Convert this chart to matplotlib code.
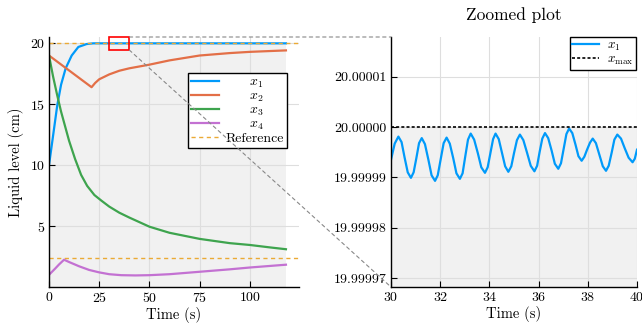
import numpy as np
import matplotlib
matplotlib.use("Agg")
import matplotlib.pyplot as plt
from matplotlib.patches import Rectangle, ConnectionPatch
from matplotlib.ticker import FixedLocator, FuncFormatter

plt.rcParams['font.family'] = ['cmr10', 'DejaVu Serif']
plt.rcParams['mathtext.fontset'] = 'cm'
plt.rcParams['axes.formatter.use_mathtext'] = True

# ---- data ----
t_x1 = [0, 2.1, 4.1, 6, 8.3, 11.3, 14.6, 18.7, 22, 118]
x1 = [10.0, 12.5, 14.9, 16.6, 17.95, 19.0, 19.7, 19.94, 20.0, 20.0]

t_x2 = [0, 21.2, 23, 25, 30, 35, 40, 50, 60, 75, 90, 100, 118]
x2 = [19.0, 16.4, 16.75, 17.05, 17.45, 17.75, 17.95, 18.25, 18.6, 19.0, 19.2, 19.3, 19.42]

t_x3 = [0, 2, 4, 6, 8, 10, 13, 16, 19, 22.6, 26, 30, 35, 40, 50, 60, 75, 90, 100, 110, 118]
x3 = [19.0, 17.3, 15.8, 14.4, 13.2, 12.0, 10.5, 9.2, 8.3, 7.55, 7.1, 6.6, 6.1, 5.7,
      4.95, 4.45, 3.95, 3.6, 3.45, 3.25, 3.1]

t_x4 = [0, 3, 5, 7.5, 10, 15, 20, 25, 30, 36, 43, 50, 60, 75, 90, 100, 118]
x4 = [1.0, 1.5, 1.85, 2.24, 2.05, 1.7, 1.4, 1.2, 1.05, 0.97, 0.95, 0.97, 1.05, 1.25,
      1.45, 1.6, 1.83]

ref_levels = [20.0, 2.4]
t_end = 118
x_max = 20.0

# zoomed x1 : time and deviation from 20 (units of 1e-6)
t_zoom = [30.0, 30.15, 30.3, 30.43, 30.55, 30.68, 30.81, 30.92, 31.03, 31.14,
          31.25, 31.38, 31.52, 31.65, 31.79, 31.9, 32.02, 32.14, 32.26, 32.39,
          32.53, 32.66, 32.8, 32.91, 33.02, 33.13, 33.24, 33.38, 33.53, 33.67,
          33.82, 33.93, 34.04, 34.15, 34.25, 34.38, 34.51, 34.64, 34.77, 34.89,
          35.0, 35.12, 35.24, 35.38, 35.53, 35.68, 35.83, 35.94, 36.04, 36.15,
          36.26, 36.39, 36.53, 36.66, 36.8, 36.91, 37.02, 37.13, 37.24, 37.37,
          37.5, 37.62, 37.75, 37.86, 37.97, 38.09, 38.2, 38.33, 38.47, 38.61,
          38.74, 38.85, 38.97, 39.08, 39.2, 39.35, 39.5, 39.66, 39.82, 39.91, 40.0]
dev_zoom = [-6.5, -3.3, -1.9, -3.0, -6.0, -9.0, -10.1, -9.0, -6.2, -3.2,
            -2.2, -3.4, -6.5, -9.6, -10.7, -9.6, -6.4, -3.2, -2.1, -3.3,
            -6.2, -9.2, -10.3, -9.2, -5.8, -2.5, -1.3, -2.5, -5.2, -8.0,
            -9.1, -8.0, -5.2, -2.4, -1.3, -2.4, -5.1, -7.8, -8.9, -7.8,
            -5.2, -2.6, -1.5, -2.6, -5.1, -7.7, -8.8, -7.7, -5.0, -2.3,
            -1.2, -2.2, -4.7, -7.3, -8.3, -7.2, -4.3, -1.4, -0.3, -1.2,
            -3.5, -5.8, -6.7, -5.9, -4.5, -3.1, -2.3, -3.2, -5.5, -7.8,
            -8.7, -7.7, -5.1, -2.5, -1.5, -2.3, -4.2, -6.1, -7.0, -6.3, -4.5]

colors = ['#009AFA', '#E36F47', '#3EA44E', '#C371D2']
ref_color = '#EBAA35'
fill_color = '#F1F1F1'
grid_color = '#DEDEDE'
lw = 1.6

fig = plt.figure(figsize=(6.42, 3.23), dpi=100)
ax1 = fig.add_axes([49 / 642, 1 - 287 / 323, 250 / 642, 250 / 323])
ax2 = fig.add_axes([391 / 642, 1 - 287 / 323, 246 / 642, 250 / 323])


def style(ax):
    for s in ['top', 'right']:
        ax.spines[s].set_visible(False)
    for s in ['left', 'bottom']:
        ax.spines[s].set_linewidth(1.0)
    ax.tick_params(direction='in', length=4, width=0.8, labelsize=10, pad=3)
    ax.grid(True, color=grid_color, lw=0.8)
    ax.set_axisbelow(True)


# ---- left panel ----
ylo, yhi = 0.0, 20.52
ax1.fill_between([0, t_end], ylo, x_max, color=fill_color, lw=0, zorder=0)
ax1.plot(t_x1, x1, color=colors[0], lw=lw, label='     $x_1$')
ax1.plot(t_x2, x2, color=colors[1], lw=lw, label='     $x_2$')
ax1.plot(t_x3, x3, color=colors[2], lw=lw, label='     $x_3$')
ax1.plot(t_x4, x4, color=colors[3], lw=lw, label='     $x_4$')
for i, r in enumerate(ref_levels):
    ax1.axhline(r, color=ref_color, lw=1, ls=(0, (3, 2.5)),
                label='Reference' if i == 0 else None)
ax1.set_xlim(0, 124.5)
ax1.set_ylim(ylo, yhi)
ax1.set_xticks([0, 25, 50, 75, 100])
ax1.set_yticks([5, 10, 15, 20])
ax1.set_xlabel('Time (s)', fontsize=10.5, labelpad=1)
ax1.set_ylabel('Liquid level (cm)', fontsize=10.5, labelpad=4)
style(ax1)
ax1.add_patch(Rectangle((30, 19.45), 10, yhi - 19.45, fill=False, ec='red', lw=1.2,
                        zorder=5, clip_on=False))
leg1 = ax1.legend(loc='upper right', bbox_to_anchor=(287 / 642, 1 - 73 / 323),
                  bbox_transform=fig.transFigure, fontsize=10, frameon=True,
                  fancybox=False, framealpha=1, edgecolor='black',
                  labelspacing=0.0, handlelength=2.0, handletextpad=0.5,
                  borderpad=0.2, borderaxespad=0)
leg1.get_frame().set_linewidth(1.0)

# ---- right panel ----
zlo, zhi = 19.9999682, 20.0000179
y_zoom = [x_max + d * 1e-6 for d in dev_zoom]
ax2.fill_between([30, 40], zlo, x_max, color=fill_color, lw=0, zorder=0)
ax2.plot(t_zoom, y_zoom, color=colors[0], lw=lw, label='$x_1$')
ax2.axhline(x_max, color='black', lw=1.2, ls=(0, (1.8, 1.3)), label=r'$x_{\max}$')
ax2.set_xlim(30, 40)
ax2.set_ylim(zlo, zhi)
ax2.set_xticks([30, 32, 34, 36, 38, 40])
ax2.yaxis.set_major_locator(FixedLocator([19.99997, 19.99998, 19.99999, 20.0, 20.00001]))
ax2.yaxis.set_major_formatter(FuncFormatter(lambda v, p: f'{v:.5f}'))
ax2.set_xlabel('Time (s)', fontsize=10.5, labelpad=1)
ax2.set_title('Zoomed plot', fontsize=12.5, pad=12)
style(ax2)
leg2 = ax2.legend(loc='upper right', bbox_to_anchor=(636 / 642, 1 - 37 / 323),
                  bbox_transform=fig.transFigure, fontsize=9.5, frameon=True,
                  fancybox=False, framealpha=1, edgecolor='black',
                  labelspacing=0.05, handlelength=2.0, handletextpad=0.6,
                  borderpad=0.2, borderaxespad=0)
leg2.get_frame().set_linewidth(1.0)

# ---- connecting lines ----
for ya, yb in [(yhi, zhi), (19.45, zlo)]:
    con = ConnectionPatch(xyA=(40, ya), coordsA=ax1.transData,
                          xyB=(30, yb), coordsB=ax2.transData,
                          color='#888888', lw=0.8, ls=(0, (3, 3)))
    fig.add_artist(con)

fig.savefig('out.png', dpi=100)
